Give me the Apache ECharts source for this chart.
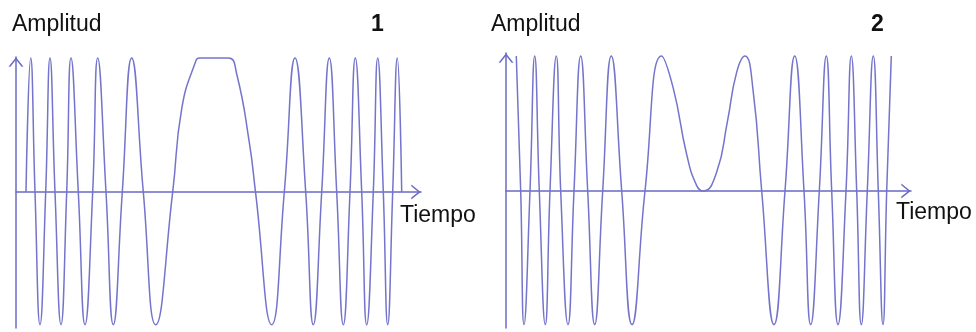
<!DOCTYPE html>
<html>
<head>
<meta charset="utf-8">
<script src="https://cdn.jsdelivr.net/npm/echarts@6/dist/echarts.min.js"></script>
<style>
  html, body { margin: 0; padding: 0; background: #ffffff; }
  #chart { width: 976px; height: 332px; }
</style>
</head>
<body>
<div id="chart"></div>
<script>
// Panel 1: time readings (arbitrary units) and amplitude readings
const tiempo1 = [10, 14.7, 19, 24, 29.7, 34, 39, 45, 50.7, 55, 62.3, 69, 76.7, 81.7, 90, 97.3, 106.3, 115.7, 127.3, 139.7,
  156.7, 165.7, 179, 184, 212.3, 220.7, 233.3, 239.5, 255.7, 268.3, 279, 289.7, 297.3, 305.7, 313.3, 320.7, 327.3, 334,
  339.3, 345.7, 350.7, 357.3, 361.7, 367.3, 371.7, 376.7, 381.3, 385.7];
const amplitud1 = [0, 1, 0, -0.99, 0, 1, 0, -0.99, 0, 1, 0, -0.99, 0, 1, 0, -0.99, 0, 1, 0, -0.99,
  0, 0.62, 0.96, 1, 1, 0.88, 0.37, 0, -0.99, 0, 1, 0, -0.99, 0, 1, 0, -0.99, 0,
  1, 0, -0.99, 0, 1, 0, -0.99, 0, 1, 0];

// Panel 2
const tiempo2 = [10.3, 14.7, 18, 24, 28.7, 33.3, 39.3, 44, 50.3, 54.7, 62, 68, 74.7, 81.7, 88.7, 96.7, 105.3, 115.7, 126, 139,
  155.5, 167.3, 180.7, 190.7, 197.5, 210.7, 221.3, 230.7, 239, 247.3, 255.7, 268, 279, 288.7, 298, 304.7, 313.3, 320.3,
  325.7, 332, 340, 345.3, 350.7, 355.3, 361.3, 367.3, 372.3, 377, 380.7, 385.3];
const amplitud2 = [1, 0, -0.99, 0, 1, 0, -0.99, 0, 1, 0, -0.99, 0, 1, 0, -0.99, 0, 1, 0, -0.99, 0,
  1, 0.76, 0.27, 0.04, 0, 0.14, 0.51, 0.88, 1, 0.73, 0, -0.99, 0, 1, 0, -0.99, 0, 1,
  0, -0.99, 0, 1, 0, -0.99, 0, 1, 0, -0.99, 0, 1];

const panelTitles = ['1', '2'];
const yName = 'Amplitud';
const xName = 'Tiempo';

const waveColor = '#7474cc';
const axisColor = '#6a6ac6';
const chevron = 'path://M0,10L8,0L16,10L14,10L8,2.5L2,10Z';
const font = 'Liberation Sans, Arial, sans-serif';

function pairs(xs, ys) { return xs.map((x, i) => [x, ys[i]]); }

function xAx(gi) {
  return {
    type: 'value', gridIndex: gi, min: 0, max: 405,
    axisLine: { show: true, onZero: true, symbol: ['none', chevron], symbolSize: [15, 10], symbolOffset: [0, -5],
      lineStyle: { color: axisColor, width: 1.5 } },
    axisTick: { show: false }, axisLabel: { show: false }, splitLine: { show: false }
  };
}
function yAx(gi, mn, mx) {
  return {
    type: 'value', gridIndex: gi, min: mn, max: mx,
    axisLine: { show: true, onZero: true, symbol: ['none', chevron], symbolSize: [15, 10], symbolOffset: [0, -5],
      lineStyle: { color: axisColor, width: 1.5 } },
    axisTick: { show: false }, axisLabel: { show: false }, splitLine: { show: false }
  };
}
const tStyle = (bold) => ({ fontFamily: font, fontSize: 23, fontWeight: bold ? 'bold' : 'normal', color: '#111' });

const chart = echarts.init(document.getElementById('chart'), null, { renderer: 'canvas' });
chart.setOption({
  animation: false,
  backgroundColor: '#ffffff',
  title: [
    { text: yName, left: 12, top: 13, padding: 0, textStyle: tStyle(false) },
    { text: panelTitles[0], left: 371, top: 13, padding: 0, textStyle: tStyle(true) },
    { text: xName, left: 400, top: 204, padding: 0, textStyle: tStyle(false) },
    { text: yName, left: 491, top: 13, padding: 0, textStyle: tStyle(false) },
    { text: panelTitles[1], left: 871, top: 13, padding: 0, textStyle: tStyle(true) },
    { text: xName, left: 896, top: 201, padding: 0, textStyle: tStyle(false) }
  ],
  grid: [
    { left: 16, top: 57, width: 405, height: 271 },
    { left: 506, top: 53, width: 405, height: 275 }
  ],
  xAxis: [xAx(0), xAx(1)],
  yAxis: [yAx(0, -1.015, 1.007), yAx(1, -1.015, 1.022)],
  series: [
    { type: 'line', xAxisIndex: 0, yAxisIndex: 0, data: pairs(tiempo1, amplitud1), smooth: 0.5, showSymbol: false,
      lineStyle: { color: waveColor, width: 1.5 }, clip: false },
    { type: 'line', xAxisIndex: 1, yAxisIndex: 1, data: pairs(tiempo2, amplitud2), smooth: 0.5, showSymbol: false,
      lineStyle: { color: waveColor, width: 1.5 }, clip: false }
  ]
});
</script>
</body>
</html>
